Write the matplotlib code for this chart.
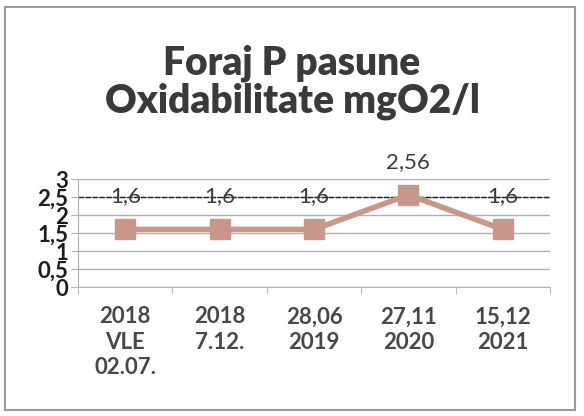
import numpy as np
import matplotlib
matplotlib.use('Agg')
import matplotlib.pyplot as plt
from matplotlib.patches import Rectangle

# measurements
categories = ['2018\nVLE\n02.07.', '2018\n7.12.', '28,06\n2019', '27,11\n2020', '15,12\n2021']
values = [1.6, 1.6, 1.6, 2.56, 1.6]
value_labels = ['1,6', '1,6', '1,6', '2,56', '1,6']
limit_value = 2.5
y_ticks = [0, 0.5, 1, 1.5, 2, 2.5, 3]
y_tick_labels = ['0', '0,5', '1', '1,5', '2', '2,5', '3']

title_color = '#3a3a3a'
text_color = '#484848'
line_color = '#c9968a'

plt.rcParams['font.family'] = ['Lato', 'DejaVu Sans']

fig = plt.figure(figsize=(5.84, 4.16), dpi=100)
fig.patches.append(Rectangle((0.009, 0.014), 0.975, 0.97, transform=fig.transFigure,
                             fill=False, edgecolor='#9a9a9a', linewidth=1.5))

ax = fig.add_axes([0.1336, 0.31, 0.8082, 0.2597])

x = np.arange(len(values))

# grid and limit line
for yv in y_ticks:
    ax.axhline(yv, color='#b0b0b0', linewidth=1.0, zorder=1)
ax.axhline(limit_value, color='#222222', linewidth=1.0, linestyle=(0, (4, 1)), zorder=2)

ax.plot(x, values, color=line_color, linewidth=4, marker='s', markersize=14,
        markerfacecolor=line_color, markeredgecolor=line_color, zorder=3)

for xi, v, lab in zip(x, values, value_labels):
    ax.text(xi, v + 0.92, lab, ha='center', va='center', fontsize=16,
            color='#3c3c3c', zorder=4)

ax.set_xlim(-0.5, len(values) - 0.5)
ax.set_ylim(0, 3)
ax.set_yticks(y_ticks)
ax.set_yticklabels(y_tick_labels, fontsize=16, color='#1e1e1e', fontweight='bold')
ax.set_xticks(x)
ax.set_xticklabels(categories, fontsize=16, color=text_color, fontweight='bold',
                   linespacing=1.25)
ax.set_xticks(np.arange(-0.5, len(values)), minor=True)
ax.tick_params(axis='x', which='major', length=0, pad=14)
ax.tick_params(axis='x', which='minor', length=5, color='#b0b0b0', direction='out')
ax.tick_params(axis='y', length=5, color='#b0b0b0', pad=2)

for side in ['top', 'right']:
    ax.spines[side].set_visible(False)
ax.spines['left'].set_color('#b0b0b0')
ax.spines['bottom'].set_color('#b0b0b0')

fig.text(0.5, 0.848, 'Foraj P pasune', ha='center', va='center', fontsize=28,
         fontweight='heavy', color=title_color)
fig.text(0.5, 0.757, 'Oxidabilitate mgO2/l', ha='center', va='center', fontsize=28,
         fontweight='heavy', color=title_color)

fig.savefig('out.png', dpi=100)
